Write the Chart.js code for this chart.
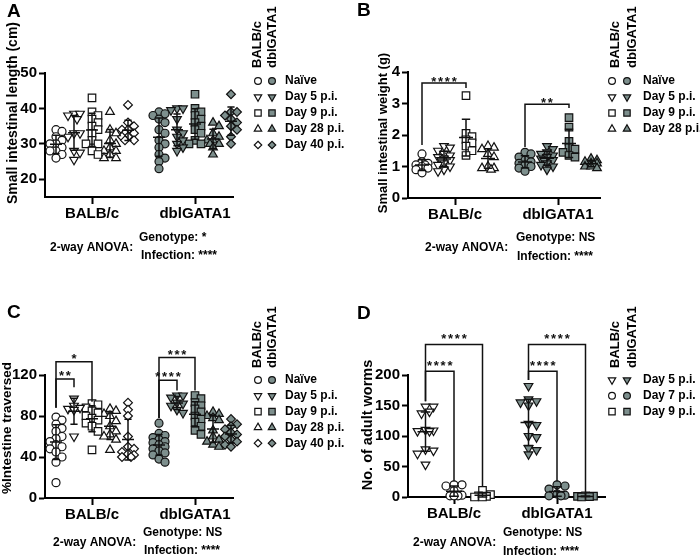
<!DOCTYPE html>
<html>
<head>
<meta charset="utf-8">
<script src="https://cdn.jsdelivr.net/npm/chart.js@4.4.1/dist/chart.umd.min.js"></script>
<style>
  body { margin: 0; background: #fff; }
  #wrap { position: relative; width: 700px; height: 556px; }
  .panel { position: absolute; width: 350px; height: 278px; }
</style>
</head>
<body>
<div id="wrap">
  <div class="panel" style="left:0;top:0"><canvas id="chartA" width="350" height="278"></canvas></div>
  <div class="panel" style="left:350px;top:0"><canvas id="chartB" width="350" height="278"></canvas></div>
  <div class="panel" style="left:0;top:278px"><canvas id="chartC" width="350" height="278"></canvas></div>
  <div class="panel" style="left:350px;top:278px"><canvas id="chartD" width="350" height="278"></canvas></div>
</div>
<script>
const FONT = '"Liberation Sans", Arial, Helvetica, sans-serif';
const FILL = '#7d8f8d';

const genotypes = ['BALB/c', 'dblGATA1'];

// A - small intestinal length (cm)
const timepointsA = ['Naïve', 'Day 5 p.i.', 'Day 9 p.i.', 'Day 28 p.i.', 'Day 40 p.i.'];
const lengthBALB = [
  [34, 33.5, 32, 31, 30, 30, 29, 28, 28, 27, 26],
  [38.5, 38.5, 38, 37, 33, 33, 32, 28, 27.5, 25.5],
  [43, 39, 38, 37, 36, 35, 34, 33, 31, 30, 30, 28, 27],
  [39, 34, 33, 31, 30, 29, 28, 28, 27, 26, 26],
  [41, 36, 35, 34, 34, 33, 33, 32, 32, 31, 31]
];
const lengthDbl = [
  [39, 38.5, 38, 37, 36, 34, 33, 31, 30, 29, 27, 26, 25, 23],
  [40, 40, 39.5, 37, 34, 33, 32, 31, 30, 29, 28],
  [44, 40, 39, 38, 37, 36, 35, 34, 33, 31, 30, 30],
  [36, 35, 33, 32, 31, 31, 30, 30, 29, 27],
  [44, 39, 39, 38, 37, 36, 35, 34, 32, 30]
];
const ticksA = [20, 30, 40, 50];
const anovaA = ['Genotype: *', 'Infection: ****'];

// B - small intestinal weight (g)
const timepointsB = ['Naïve', 'Day 5 p.i.', 'Day 9 p.i.', 'Day 28 p.i.'];
const weightBALB = [
  [1.4, 1.15, 1.1, 1.05, 1.05, 1.0, 0.95, 0.9, 0.8],
  [1.65, 1.6, 1.5, 1.4, 1.35, 1.3, 1.25, 1.2, 1.2, 1.1, 1.05, 1.0, 0.9, 0.85],
  [3.25, 2.05, 1.95, 1.85, 1.75, 1.65, 1.5, 1.35],
  [1.65, 1.6, 1.55, 1.4, 1.3, 1.0, 0.95, 0.95, 0.9]
];
const weightDbl = [
  [1.45, 1.4, 1.3, 1.2, 1.15, 1.1, 1.05, 1.0, 0.95, 0.85],
  [1.65, 1.55, 1.45, 1.4, 1.35, 1.3, 1.25, 1.2, 1.2, 1.1, 1.05, 1.0, 0.9],
  [2.55, 2.25, 1.8, 1.6, 1.55, 1.45, 1.35, 1.3],
  [1.25, 1.2, 1.15, 1.1, 1.1, 1.05, 1.0, 1.0, 0.95]
];
const ticksB = [0, 1, 2, 3, 4];
const anovaB = ['Genotype: NS', 'Infection: ****'];

// C - % intestine traversed
const timepointsC = ['Naïve', 'Day 5 p.i.', 'Day 9 p.i.', 'Day 28 p.i.', 'Day 40 p.i.'];
const transitBALB = [
  [79, 76, 72, 68, 65, 60, 58, 55, 52, 50, 48, 45, 40, 35, 15],
  [97, 90, 88, 87, 86, 60],
  [92, 91, 88, 85, 83, 80, 78, 76, 73, 70, 65, 47],
  [87, 85, 82, 80, 75, 70, 65, 62, 60, 57, 47],
  [93, 86, 80, 60, 50, 48, 45, 43, 42, 40, 40]
];
const transitDbl = [
  [73, 63, 61, 59, 57, 55, 54, 52, 50, 48, 46, 44, 42, 38, 35],
  [100, 100, 98, 93, 92, 90, 86, 83],
  [100, 97, 93, 90, 87, 84, 80, 77, 74, 70, 66, 62],
  [84, 82, 80, 78, 76, 66, 60, 57, 55, 52, 50],
  [77, 72, 70, 67, 64, 62, 60, 57, 55, 52, 50]
];
const ticksC = [0, 40, 80, 120];
const anovaC = ['Genotype: NS', 'Infection: ****'];

// D - adult worms
const timepointsD = ['Day 5 p.i.', 'Day 7 p.i.', 'Day 9 p.i.'];
const wormsBALB = [
  [148, 148, 140, 137, 110, 109, 108, 108, 78, 76, 71, 53],
  [20, 20, 18, 10, 3, 2, 2, 2],
  [11, 4, 2, 1, 0, 0]
];
const wormsDbl = [
  [182, 160, 157, 155, 150, 120, 118, 100, 98, 80, 77, 70],
  [20, 18, 13, 5, 3, 2, 2],
  [2, 1.5, 1, 0.5, 0]
];
const ticksD = [0, 50, 100, 150, 200];
const anovaD = ['Genotype: NS', 'Infection: ****'];

// symbol per time point: style, rotation, radius
const shapeOf = {
  'Naïve': ['circle', 0, 4],
  'Day 5 p.i.': ['triangle', 180, 5],
  'Day 7 p.i.': ['circle', 0, 4],
  'Day 9 p.i.': ['rect', 0, 5.3],
  'Day 28 p.i.': ['triangle', 0, 5],
  'Day 40 p.i.': ['rectRot', 0, 4.4]
};

// layout of each panel (panel-local pixels)
const panels = [
  { id: 'chartA', letter: 'A', series: [lengthBALB, lengthDbl], timepoints: timepointsA, ticks: ticksA,
    yMin: 15, yMax: 50, area: { l: 45, r: 233, t: 73, b: 197 }, centers: [92, 195], spacing: 18, meanHalf: 6,
    swarmStep: 3, yTitle: 'Small intestinal length (cm)', yTitleSize: 14, yTitleX: 13, yTitleY: 113,
    letterY: 12, legend: { hx: [257, 272], hy: 68, sx: [258, 272], tx: 285, top: 81, step: 16 },
    anova: anovaA, anovaPos: { x: 50, y: 248, gx: 139, gy: 238, ix: 141, iy: 256 },
    starGap: 5, brackets: [] },
  { id: 'chartB', letter: 'B', series: [weightBALB, weightDbl], timepoints: timepointsB, ticks: ticksB,
    yMin: 0, yMax: 4, area: { l: 58, r: 250, t: 72, b: 198 }, centers: [105, 208], spacing: 22, meanHalf: 7,
    swarmStep: 3, yTitle: 'Small intestinal weight (g)', yTitleSize: 13, yTitleX: 33, yTitleY: 133,
    letterY: 11, legend: { hx: [265, 282], hy: 68, sx: [262, 277], tx: 293, top: 81, step: 16 },
    anova: anovaB, anovaPos: { x: 75, y: 248, gx: 166, gy: 238, ix: 167, iy: 257 },
    starGap: 4,
    brackets: [
      { g: 0, from: 0, to: 2, top: 3.65, left: 1.68, right: 3.49, label: '****' },
      { g: 1, from: 0, to: 2, top: 2.98, left: 1.62, right: 2.86, label: '**' }
    ] },
  { id: 'chartC', letter: 'C', series: [transitBALB, transitDbl], timepoints: timepointsC, ticks: ticksC,
    yMin: 0, yMax: 120, area: { l: 45, r: 233, t: 97, b: 220 }, centers: [92, 195], spacing: 18, meanHalf: 6,
    swarmStep: 3, yTitle: '%Intestine traversed', yTitleSize: 13.5, yTitleX: 7, yTitleY: 150,
    letterY: 35, legend: { hx: [257, 272], hy: 90, sx: [258, 272], tx: 285, top: 102, step: 15.8 },
    anova: anovaC, anovaPos: { x: 53, y: 265, gx: 143, gy: 255, ix: 144, iy: 273 },
    starGap: 5.5,
    brackets: [
      { g: 0, from: 0, to: 1, top: 116, left: 88, right: 108, label: '**' },
      { g: 0, from: 0, to: 2, top: 133, left: 88, right: 94, label: '*' },
      { g: 1, from: 0, to: 1, top: 115, left: 78, right: 105, label: '****' },
      { g: 1, from: 0, to: 2, top: 137, left: 78, right: 105, label: '***' }
    ] },
  { id: 'chartD', letter: 'D', series: [wormsBALB, wormsDbl], timepoints: timepointsD, ticks: ticksD,
    yMin: 0, yMax: 200, area: { l: 58, r: 255, t: 97, b: 219 }, centers: [104, 207], spacing: 28.5, meanHalf: 8,
    swarmStep: 4, yTitle: 'No. of adult worms', yTitleSize: 14.5, yTitleX: 18, yTitleY: 147,
    letterY: 36, legend: { hx: [265, 282], hy: 90, sx: [262, 277], tx: 293, top: 102, step: 15.8 },
    anova: anovaD, anovaPos: { x: 63, y: 265, gx: 153, gy: 255, ix: 153, iy: 274 },
    starGap: 8,
    brackets: [
      { g: 0, from: 0, to: 1, top: 206, left: 157, right: 26, label: '****' },
      { g: 0, from: 0, to: 2, top: 250, left: 157, right: 18, label: '****' },
      { g: 1, from: 0, to: 1, top: 206, left: 192, right: 26, label: '****' },
      { g: 1, from: 0, to: 2, top: 250, left: 192, right: 4, label: '****' }
    ] }
];

function colX(p, g, t) {
  return p.centers[g] - p.area.l + (t - (p.timepoints.length - 1) / 2) * p.spacing;
}

// narrow beeswarm: a few horizontal slots, overlapping allowed when crowded
function swarm(vals, pxPerUnit, step) {
  const placed = [];
  const out = new Array(vals.length).fill(0);
  const slots = [0, 1, -1, 2, -2];
  const order = vals.map((v, i) => i).sort((a, b) => vals[b] - vals[a]);
  order.forEach(i => {
    const py = vals[i] * pxPerUnit;
    let best = 0, bestD = -1;
    for (const s of slots) {
      const px = s * step;
      const d = placed.reduce((mn, q) => Math.min(mn, Math.hypot(q[0] - px, q[1] - py)), 1e9);
      if (d >= 6) { best = px; bestD = d; break; }
      if (d > bestD) { bestD = d; best = px; }
    }
    placed.push([best, py]);
    out[i] = best;
  });
  return out;
}

function drawSym(ctx, style, rot, r, x, y, filled) {
  ctx.save();
  ctx.beginPath();
  if (style === 'circle') {
    ctx.arc(x, y, r, 0, Math.PI * 2);
  } else if (style === 'triangle') {
    let a = rot * Math.PI / 180;
    ctx.moveTo(x + Math.sin(a) * r, y - Math.cos(a) * r);
    for (let k = 0; k < 2; k++) {
      a += Math.PI * 2 / 3;
      ctx.lineTo(x + Math.sin(a) * r, y - Math.cos(a) * r);
    }
    ctx.closePath();
  } else if (style === 'rect') {
    const s = r * Math.SQRT1_2;
    ctx.rect(x - s, y - s, 2 * s, 2 * s);
  } else {
    ctx.moveTo(x, y - r); ctx.lineTo(x + r, y); ctx.lineTo(x, y + r); ctx.lineTo(x - r, y);
    ctx.closePath();
  }
  ctx.fillStyle = filled ? FILL : '#fff';
  ctx.fill();
  ctx.lineWidth = 1.2;
  ctx.strokeStyle = '#111';
  ctx.stroke();
  ctx.restore();
}

function extras(p) {
  return {
    id: 'extras' + p.letter,
    afterDatasetsDraw(chart) {
      const ctx = chart.ctx, xs = chart.scales.x, ys = chart.scales.y;
      ctx.save();
      ctx.strokeStyle = '#111';
      ctx.lineWidth = 1.5;
      // mean +/- SD
      p.series.forEach((groups, g) => groups.forEach((vals, t) => {
        const n = vals.length;
        const m = vals.reduce((a, b) => a + b, 0) / n;
        const sd = Math.sqrt(vals.reduce((a, b) => a + (b - m) * (b - m), 0) / (n - 1));
        const x = xs.getPixelForValue(colX(p, g, t));
        const yM = ys.getPixelForValue(m);
        const yT = ys.getPixelForValue(m + sd);
        const yB = ys.getPixelForValue(Math.max(m - sd, p.yMin));
        const cap = p.meanHalf * 0.6;
        ctx.beginPath();
        ctx.moveTo(x, yT); ctx.lineTo(x, yB);
        ctx.moveTo(x - cap, yT); ctx.lineTo(x + cap, yT);
        ctx.moveTo(x - cap, yB); ctx.lineTo(x + cap, yB);
        ctx.moveTo(x - p.meanHalf, yM); ctx.lineTo(x + p.meanHalf, yM);
        ctx.stroke();
      }));
      // significance brackets
      p.brackets.forEach(br => {
        const x1 = xs.getPixelForValue(colX(p, br.g, br.from));
        const x2 = xs.getPixelForValue(colX(p, br.g, br.to));
        const yTop = ys.getPixelForValue(br.top);
        ctx.beginPath();
        ctx.moveTo(x1, ys.getPixelForValue(br.left));
        ctx.lineTo(x1, yTop); ctx.lineTo(x2, yTop);
        ctx.lineTo(x2, ys.getPixelForValue(br.right));
        ctx.stroke();
        ctx.fillStyle = '#111';
        ctx.font = 'bold 13px ' + FONT;
        ctx.textAlign = 'center';
        ctx.textBaseline = 'middle';
        const sp = 6.8, n = br.label.length;
        const cx = (x1 + x2) / 2;
        for (let k = 0; k < n; k++) {
          ctx.fillText('*', cx + (k - (n - 1) / 2) * sp, yTop - p.starGap + 3);
        }
      });
      ctx.restore();
    },
    afterDraw(chart) {
      const ctx = chart.ctx;
      ctx.save();
      ctx.fillStyle = '#000';
      // panel letter
      ctx.font = 'bold 19px ' + FONT;
      ctx.textAlign = 'left';
      ctx.textBaseline = 'middle';
      ctx.fillText(p.letter, 7, p.letterY);
      // y title
      ctx.save();
      ctx.translate(p.yTitleX, p.yTitleY);
      ctx.rotate(-Math.PI / 2);
      ctx.font = 'bold ' + p.yTitleSize + 'px ' + FONT;
      ctx.textAlign = 'center';
      ctx.fillText(p.yTitle, 0, 0);
      ctx.restore();
      // legend headers
      const L = p.legend;
      ctx.font = 'bold 13px ' + FONT;
      genotypes.forEach((gname, g) => {
        ctx.save();
        ctx.translate(L.hx[g], L.hy);
        ctx.rotate(-Math.PI / 2);
        ctx.textAlign = 'left';
        ctx.fillText(gname, 0, 0);
        ctx.restore();
      });
      // legend rows
      ctx.font = 'bold 12px ' + FONT;
      p.timepoints.forEach((tp, t) => {
        const y = L.top + t * L.step;
        const [style, rot, r] = shapeOf[tp];
        drawSym(ctx, style, rot, r * 0.85, L.sx[0], y, false);
        drawSym(ctx, style, rot, r * 0.85, L.sx[1], y, true);
        ctx.fillStyle = '#000';
        ctx.textAlign = 'left';
        ctx.fillText(tp, L.tx, y);
      });
      // ANOVA summary
      const A = p.anovaPos;
      ctx.fillText('2-way ANOVA:', A.x, A.y);
      ctx.fillText(p.anova[0], A.gx, A.gy);
      ctx.fillText(p.anova[1], A.ix, A.iy);
      ctx.restore();
    }
  };
}

function makeChart(p) {
  const a = p.area;
  const pxPerUnit = (a.b - a.t) / (p.yMax - p.yMin);
  const datasets = [];
  p.series.forEach((groups, g) => groups.forEach((vals, t) => {
    const [style, rot, r] = shapeOf[p.timepoints[t]];
    const jit = swarm(vals, pxPerUnit, p.swarmStep);
    datasets.push({
      label: genotypes[g] + ' ' + p.timepoints[t],
      data: vals.map((v, i) => ({ x: colX(p, g, t) + jit[i], y: v })),
      pointStyle: style,
      pointRotation: rot,
      pointRadius: r,
      pointHoverRadius: r,
      pointBackgroundColor: g ? FILL : '#fff',
      pointBorderColor: '#111',
      pointBorderWidth: 1.2,
      showLine: false,
      clip: false
    });
  }));

  const tickFont = { family: FONT, size: 15, weight: 'bold' };
  new Chart(document.getElementById(p.id), {
    type: 'scatter',
    data: { datasets },
    options: {
      responsive: false,
      animation: false,
      events: [],
      layout: { padding: { left: 0, top: a.t, right: 350 - a.r, bottom: 0 } },
      plugins: { legend: { display: false }, tooltip: { enabled: false } },
      scales: {
        x: {
          type: 'linear',
          min: 0,
          max: a.r - a.l,
          afterBuildTicks: ax => { ax.ticks = p.centers.map(c => ({ value: c - a.l })); },
          afterFit: s => { s.height = 278 - a.b; },
          ticks: { callback: (v, i) => genotypes[i], font: tickFont, color: '#000', padding: 1,
                   maxRotation: 0, autoSkip: false },
          grid: { drawOnChartArea: false, drawTicks: true, tickLength: 7, tickColor: '#000', tickWidth: 2 },
          border: { color: '#000', width: 2 }
        },
        y: {
          type: 'linear',
          min: p.yMin,
          max: p.yMax,
          afterBuildTicks: ax => { ax.ticks = p.ticks.map(v => ({ value: v })); },
          afterFit: s => { s.width = a.l; },
          ticks: { font: tickFont, color: '#000', padding: 2 },
          grid: { drawOnChartArea: false, drawTicks: true, tickLength: 6, tickColor: '#000', tickWidth: 2 },
          border: { color: '#000', width: 2 }
        }
      }
    },
    plugins: [extras(p)]
  });
}

panels.forEach(makeChart);
</script>
</body>
</html>
